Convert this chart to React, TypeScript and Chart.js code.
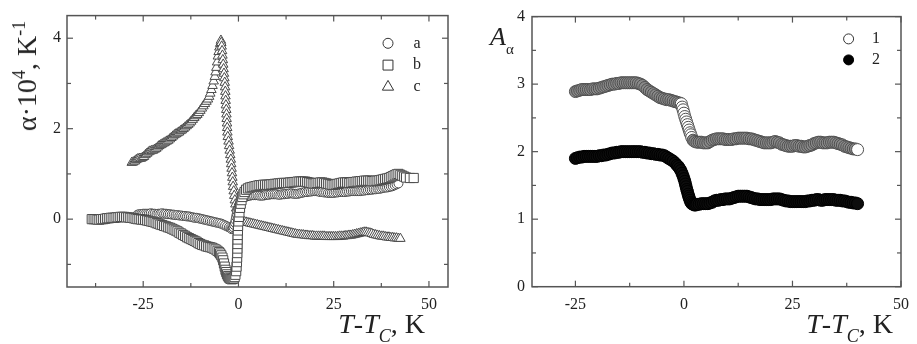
import React, { useEffect, useRef } from 'react';
import { Chart, registerables } from 'chart.js';

Chart.register(...registerables);

// ---------- Left panel: alpha·10^4 vs T-Tc ----------
const leftXTicks = [-25, 0, 25, 50];
const leftXMinor = [-37.5, -12.5, 12.5, 37.5];
const leftYTicks = [0, 2, 4];
const leftYMinor = [-1, 1, 3];

// series "a" (circles)
const seriesA: [number, number][] = [
  [-26.5, 0.1], [-26, 0.11], [-25.5, 0.11], [-25, 0.12], [-24.5, 0.12], [-24, 0.12], [-23.5, 0.12], [-23, 0.13],
  [-22.5, 0.12], [-22, 0.12], [-21.5, 0.11], [-21, 0.12], [-20.5, 0.12], [-20, 0.13], [-19.5, 0.12], [-19, 0.12],
  [-18.5, 0.11], [-18, 0.11], [-17.5, 0.1], [-17, 0.1], [-16.5, 0.09], [-16, 0.09], [-15.5, 0.08], [-15, 0.08],
  [-14.5, 0.07], [-14, 0.07], [-13.5, 0.06], [-13, 0.06], [-12.5, 0.05], [-12, 0.04], [-11.5, 0.03], [-11, 0.03],
  [-10.5, 0.02], [-10, 0.01], [-9.5, 0.0], [-9, -0.01], [-8.5, -0.02], [-8, -0.03], [-7.5, -0.04], [-7, -0.05],
  [-6.5, -0.06], [-6, -0.07], [-5.5, -0.08], [-5, -0.09], [-4.5, -0.1], [-4, -0.12], [-3.5, -0.14], [-3, -0.16],
  [-2.5, -0.18], [-2.1, -0.2], [-1.8, -0.22], [-1.5, -0.21], [-1.3, -0.18], [-1.1, -0.13], [-0.9, -0.08],
  [-0.75, -0.02], [-0.6, 0.05], [-0.45, 0.11], [-0.3, 0.18], [-0.1, 0.24], [0.1, 0.3], [0.35, 0.35], [0.6, 0.4],
  [0.9, 0.44], [1.2, 0.47], [1.6, 0.49], [2.0, 0.5], [2.5, 0.51], [3.0, 0.52], [3.5, 0.53], [4, 0.53], [4.5, 0.53],
  [5, 0.53], [5.5, 0.52], [6, 0.52], [6.5, 0.52], [7, 0.53], [7.5, 0.54], [8, 0.54], [8.5, 0.55], [9, 0.55],
  [9.5, 0.55], [10, 0.55], [10.5, 0.54], [11, 0.54], [11.5, 0.55], [12, 0.55], [12.5, 0.56], [13, 0.56],
  [13.5, 0.57], [14, 0.57], [14.5, 0.56], [15, 0.56], [15.5, 0.56], [16, 0.57], [16.5, 0.58], [17, 0.59],
  [17.5, 0.6], [18, 0.6], [18.5, 0.61], [19, 0.61], [19.5, 0.62], [20, 0.62], [20.5, 0.62], [21, 0.61],
  [21.5, 0.6], [22, 0.6], [22.5, 0.59], [23, 0.59], [23.5, 0.58], [24, 0.58], [24.5, 0.58], [25, 0.58],
  [25.5, 0.59], [26, 0.59], [26.5, 0.6], [27, 0.6], [27.5, 0.6], [28, 0.6], [28.5, 0.61], [29, 0.61],
  [29.5, 0.62], [30, 0.62], [30.5, 0.62], [31, 0.62], [31.5, 0.62], [32, 0.62], [32.5, 0.63], [33, 0.63],
  [33.5, 0.64], [34, 0.64], [34.5, 0.65], [35, 0.65], [35.5, 0.66], [36, 0.66], [36.5, 0.67], [37, 0.67],
  [37.5, 0.68], [38, 0.69], [38.5, 0.7], [39, 0.7], [39.5, 0.71], [40, 0.72], [40.5, 0.73], [41, 0.75],
  [41.5, 0.77], [42, 0.79],
];

// series "b" (squares)
const seriesB: [number, number][] = [
  [-38.5, 0.0], [-38, 0.0], [-37.5, 0.0], [-37, -0.01], [-36.5, -0.01], [-36, 0.0], [-35.5, 0.0], [-35, 0.01],
  [-34.5, 0.02], [-34, 0.02], [-33.5, 0.03], [-33, 0.03], [-32.5, 0.03], [-32, 0.04], [-31.5, 0.04], [-31, 0.05],
  [-30.5, 0.05], [-30, 0.05], [-29.5, 0.04], [-29, 0.04], [-28.5, 0.03], [-28, 0.03], [-27.5, 0.02], [-27, 0.01],
  [-26.5, 0.0], [-26, 0.0], [-25.5, -0.01], [-25, -0.01], [-24.5, -0.02], [-24, -0.03], [-23.5, -0.04],
  [-23, -0.05], [-22.5, -0.06], [-22, -0.07], [-21.5, -0.09], [-21, -0.1], [-20.5, -0.12], [-20, -0.13],
  [-19.5, -0.15], [-19, -0.16], [-18.5, -0.18], [-18, -0.19], [-17.5, -0.21], [-17, -0.23], [-16.5, -0.25],
  [-16, -0.27], [-15.5, -0.3], [-15, -0.32], [-14.5, -0.35], [-14, -0.37], [-13.5, -0.4], [-13, -0.42],
  [-12.5, -0.44], [-12, -0.46], [-11.5, -0.48], [-11, -0.5], [-10.5, -0.53], [-10, -0.55], [-9.5, -0.57],
  [-9, -0.58], [-8.5, -0.6], [-8, -0.61], [-7.5, -0.62], [-7, -0.63], [-6.5, -0.65], [-6, -0.67], [-5.5, -0.7],
  [-5.1, -0.73], [-4.8, -0.76], [-4.5, -0.8], [-4.2, -0.85], [-4.0, -0.91], [-3.8, -0.98], [-3.6, -1.05],
  [-3.4, -1.12], [-3.2, -1.17], [-3.0, -1.22], [-2.75, -1.26], [-2.5, -1.29], [-2.25, -1.31], [-2.0, -1.32],
  [-1.75, -1.33], [-1.5, -1.32], [-1.25, -1.31], [-1.0, -1.28], [-0.8, -1.23], [-0.6, -1.15], [-0.5, -1.05],
  [-0.4, -0.95], [-0.35, -0.85], [-0.3, -0.75], [-0.28, -0.65], [-0.25, -0.55], [-0.22, -0.45], [-0.2, -0.35],
  [-0.15, -0.25], [-0.1, -0.15], [0.0, -0.05], [0.1, 0.05], [0.25, 0.15], [0.4, 0.25], [0.6, 0.34], [0.8, 0.42],
  [1.0, 0.49], [1.3, 0.55], [1.6, 0.6], [2.0, 0.65], [2.5, 0.68], [3.0, 0.7], [3.5, 0.71], [4, 0.72], [4.5, 0.73],
  [5, 0.74], [5.5, 0.75], [6, 0.75], [6.5, 0.76], [7, 0.76], [7.5, 0.76], [8, 0.76], [8.5, 0.77], [9, 0.77],
  [9.5, 0.78], [10, 0.78], [10.5, 0.79], [11, 0.79], [11.5, 0.8], [12, 0.8], [12.5, 0.8], [13, 0.8], [13.5, 0.81],
  [14, 0.81], [14.5, 0.82], [15, 0.82], [15.5, 0.83], [16, 0.83], [16.5, 0.83], [17, 0.83], [17.5, 0.83],
  [18, 0.82], [18.5, 0.81], [19, 0.8], [19.5, 0.79], [20, 0.79], [20.5, 0.8], [21, 0.8], [21.5, 0.81], [22, 0.81],
  [22.5, 0.8], [23, 0.79], [23.5, 0.78], [24, 0.77], [24.5, 0.76], [25, 0.76], [25.5, 0.77], [26, 0.78],
  [26.5, 0.79], [27, 0.8], [27.5, 0.81], [28, 0.81], [28.5, 0.81], [29, 0.8], [29.5, 0.81], [30, 0.82],
  [30.5, 0.82], [31, 0.83], [31.5, 0.83], [32, 0.84], [32.5, 0.84], [33, 0.85], [33.5, 0.85], [34, 0.85],
  [34.5, 0.85], [35, 0.84], [35.5, 0.84], [36, 0.85], [36.5, 0.85], [37, 0.86], [37.5, 0.87], [38, 0.88],
  [38.5, 0.89], [39, 0.9], [39.5, 0.91], [40, 0.93], [40.5, 0.95], [41, 0.97], [41.5, 0.99], [42, 1.0],
  [42.5, 0.98], [43, 0.96], [43.5, 0.94], [44, 0.92], [45, 0.91], [46, 0.91],
];

// series "c" (triangles)
const seriesC: [number, number][] = [
  [-28.0, 1.25], [-27.6, 1.26], [-27.2, 1.28], [-26.8, 1.31], [-26.4, 1.33], [-26.0, 1.34], [-25.6, 1.34],
  [-25.2, 1.36], [-24.8, 1.38], [-24.4, 1.42], [-24.0, 1.45], [-23.6, 1.48], [-23.2, 1.5], [-22.8, 1.51],
  [-22.4, 1.52], [-22.0, 1.54], [-21.6, 1.56], [-21.2, 1.59], [-20.8, 1.62], [-20.4, 1.64], [-20.0, 1.66],
  [-19.6, 1.68], [-19.2, 1.7], [-18.8, 1.72], [-18.4, 1.74], [-18.0, 1.77], [-17.6, 1.8], [-17.2, 1.83],
  [-16.8, 1.86], [-16.4, 1.88], [-16.0, 1.9], [-15.6, 1.92], [-15.2, 1.95], [-14.8, 1.97], [-14.4, 2.0],
  [-14.0, 2.03], [-13.6, 2.06], [-13.2, 2.09], [-12.8, 2.12], [-12.4, 2.16], [-12.0, 2.2], [-11.6, 2.24],
  [-11.2, 2.28], [-10.8, 2.31], [-10.4, 2.35], [-10.0, 2.4], [-9.6, 2.45], [-9.2, 2.5], [-8.8, 2.55],
  [-8.4, 2.6], [-8.0, 2.65], [-7.7, 2.71], [-7.4, 2.78], [-7.1, 2.86], [-6.8, 2.95], [-6.5, 3.05], [-6.2, 3.15],
  [-6.0, 3.25], [-5.8, 3.35], [-5.6, 3.47], [-5.4, 3.6], [-5.2, 3.7], [-5.0, 3.8], [-4.8, 3.88], [-4.6, 3.95],
  [-4.5, 3.9], [-4.4, 3.82], [-4.3, 3.72], [-4.2, 3.62], [-4.1, 3.52], [-4.0, 3.42], [-3.9, 3.32], [-3.8, 3.22],
  [-3.7, 3.12], [-3.6, 3.02], [-3.5, 2.92], [-3.45, 2.82], [-3.4, 2.72], [-3.35, 2.62], [-3.3, 2.52],
  [-3.2, 2.42], [-3.15, 2.32], [-3.1, 2.22], [-3.0, 2.12], [-2.95, 2.02], [-2.9, 1.92], [-2.8, 1.82],
  [-2.6, 1.72], [-2.45, 1.62], [-2.3, 1.52], [-2.15, 1.42], [-2.0, 1.32], [-1.9, 1.22], [-1.8, 1.12],
  [-1.7, 1.02], [-1.6, 0.92], [-1.5, 0.82], [-1.4, 0.72], [-1.25, 0.62], [-1.1, 0.52], [-0.95, 0.42],
  [-0.8, 0.33], [-0.6, 0.24], [-0.4, 0.16], [-0.2, 0.09], [0.0, 0.03], [0.2, -0.02],
  [0.5, -0.04], [1, -0.05], [1.5, -0.06], [2, -0.07], [2.5, -0.08], [3, -0.09], [3.5, -0.1], [4, -0.11],
  [4.5, -0.12], [5, -0.13], [5.5, -0.14], [6, -0.15], [6.5, -0.16], [7, -0.17], [7.5, -0.18], [8, -0.19],
  [8.5, -0.2], [9, -0.21], [9.5, -0.22], [10, -0.23], [10.5, -0.24], [11, -0.25], [11.5, -0.26], [12, -0.27],
  [12.5, -0.28], [13, -0.29], [13.5, -0.3], [14, -0.31], [14.5, -0.32], [15, -0.33], [15.5, -0.34], [16, -0.34],
  [16.5, -0.35], [17, -0.35], [17.5, -0.36], [18, -0.36], [18.5, -0.37], [19, -0.37], [19.5, -0.37],
  [20, -0.38], [20.5, -0.38], [21, -0.38], [21.5, -0.38], [22, -0.38], [22.5, -0.38], [23, -0.39],
  [23.5, -0.39], [24, -0.39], [24.5, -0.39], [25, -0.39], [25.5, -0.39], [26, -0.39], [26.5, -0.38],
  [27, -0.38], [27.5, -0.38], [28, -0.37], [28.5, -0.37], [29, -0.36], [29.5, -0.36], [30, -0.35],
  [30.5, -0.34], [31, -0.33], [31.5, -0.32], [32, -0.31], [32.5, -0.3], [33, -0.29], [33.5, -0.29],
  [34, -0.3], [34.5, -0.31], [35, -0.32], [35.5, -0.34], [36, -0.35], [36.5, -0.36], [37, -0.37],
  [37.5, -0.38], [38, -0.38], [38.5, -0.39], [39, -0.4], [39.5, -0.4], [40, -0.41], [40.5, -0.41],
  [41, -0.42], [41.5, -0.42], [42, -0.43], [42.5, -0.43],
];

// ---------- Right panel: A_alpha vs T-Tc ----------
const rightXTicks = [-25, 0, 25, 50];
const rightXMinor = [-12.5, 12.5, 37.5];
const rightYTicks = [0, 1, 2, 3, 4];
const rightYMinor = [0.5, 1.5, 2.5, 3.5];

// series "1" (gray circles, open at the transition and at the end)
const series1: [number, number][] = [
  [-25, 2.89], [-24.5, 2.9], [-24, 2.91], [-23.5, 2.92], [-23, 2.92], [-22.5, 2.92], [-22, 2.92], [-21.5, 2.92],
  [-21, 2.93], [-20.5, 2.93], [-20, 2.93], [-19.5, 2.94], [-19, 2.95], [-18.5, 2.96], [-18, 2.97], [-17.5, 2.98],
  [-17, 2.99], [-16.5, 3.0], [-16, 3.0], [-15.5, 3.01], [-15, 3.01], [-14.5, 3.02], [-14, 3.02], [-13.5, 3.02],
  [-13, 3.02], [-12.5, 3.02], [-12, 3.02], [-11.5, 3.02], [-11, 3.02], [-10.5, 3.01], [-10, 3.0], [-9.5, 2.98],
  [-9, 2.95], [-8.5, 2.92], [-8, 2.9], [-7.5, 2.88], [-7, 2.86], [-6.5, 2.84], [-6, 2.82], [-5.5, 2.8],
  [-5, 2.79], [-4.5, 2.78], [-4, 2.77], [-3.5, 2.77], [-3, 2.76], [-2.5, 2.75], [-2, 2.74], [-1.5, 2.73],
  [-1.0, 2.72], [-0.6, 2.71], [-0.4, 2.66], [-0.2, 2.62], [0.0, 2.57], [0.2, 2.52], [0.4, 2.48], [0.6, 2.44],
  [0.8, 2.4], [1.0, 2.36], [1.2, 2.32], [1.4, 2.28], [1.6, 2.25], [1.8, 2.21], [2.1, 2.17], [2.5, 2.15],
  [3, 2.14], [3.5, 2.14], [4, 2.14], [4.5, 2.13], [5, 2.13], [5.5, 2.13], [6, 2.15], [6.5, 2.17], [7, 2.18],
  [7.5, 2.19], [8, 2.19], [8.5, 2.19], [9, 2.19], [9.5, 2.18], [10, 2.18], [10.5, 2.18], [11, 2.18], [11.5, 2.19],
  [12, 2.19], [12.5, 2.2], [13, 2.2], [13.5, 2.2], [14, 2.2], [14.5, 2.2], [15, 2.19], [15.5, 2.19], [16, 2.18],
  [16.5, 2.17], [17, 2.16], [17.5, 2.15], [18, 2.14], [18.5, 2.13], [19, 2.13], [19.5, 2.13], [20, 2.13],
  [20.5, 2.14], [21, 2.15], [21.5, 2.14], [22, 2.13], [22.5, 2.11], [23, 2.1], [23.5, 2.09], [24, 2.08],
  [24.5, 2.08], [25, 2.08], [25.5, 2.09], [26, 2.09], [26.5, 2.08], [27, 2.08], [27.5, 2.07], [28, 2.07],
  [28.5, 2.08], [29, 2.09], [29.5, 2.1], [30, 2.12], [30.5, 2.13], [31, 2.14], [31.5, 2.14], [32, 2.13],
  [32.5, 2.13], [33, 2.13], [33.5, 2.14], [34, 2.14], [34.5, 2.14], [35, 2.13], [35.5, 2.12], [36, 2.11],
  [36.5, 2.1], [37, 2.08], [37.5, 2.07], [38, 2.06], [38.5, 2.05], [39, 2.04], [39.5, 2.04], [40, 2.03],
];

// series "2" (black circles)
const series2: [number, number][] = [
  [-25, 1.9], [-24.5, 1.91], [-24, 1.92], [-23.5, 1.92], [-23, 1.93], [-22.5, 1.93], [-22, 1.93], [-21.5, 1.93],
  [-21, 1.93], [-20.5, 1.93], [-20, 1.93], [-19.5, 1.94], [-19, 1.94], [-18.5, 1.95], [-18, 1.95], [-17.5, 1.96],
  [-17, 1.97], [-16.5, 1.98], [-16, 1.98], [-15.5, 1.99], [-15, 1.99], [-14.5, 2.0], [-14, 2.0], [-13.5, 2.0],
  [-13, 2.0], [-12.5, 2.0], [-12, 2.0], [-11.5, 2.0], [-11, 2.0], [-10.5, 2.0], [-10, 2.0], [-9.5, 1.99],
  [-9, 1.99], [-8.5, 1.98], [-8, 1.98], [-7.5, 1.97], [-7, 1.97], [-6.5, 1.96], [-6, 1.96], [-5.5, 1.95],
  [-5, 1.95], [-4.5, 1.94], [-4, 1.92], [-3.5, 1.9], [-3, 1.88], [-2.5, 1.86], [-2, 1.83], [-1.6, 1.8],
  [-1.3, 1.78], [-1.0, 1.75], [-0.7, 1.72], [-0.45, 1.68], [-0.2, 1.64], [0.0, 1.6], [0.2, 1.56], [0.35, 1.52],
  [0.5, 1.48], [0.65, 1.44], [0.8, 1.41], [0.95, 1.37], [1.1, 1.34], [1.25, 1.31], [1.4, 1.28], [1.6, 1.25],
  [1.8, 1.23], [2.1, 1.22], [2.4, 1.21], [2.7, 1.21], [3, 1.22], [3.5, 1.22], [4, 1.23], [4.5, 1.23], [5, 1.23],
  [5.5, 1.23], [6, 1.24], [6.5, 1.25], [7, 1.27], [7.5, 1.28], [8, 1.28], [8.5, 1.29], [9, 1.29], [9.5, 1.3],
  [10, 1.3], [10.5, 1.3], [11, 1.31], [11.5, 1.32], [12, 1.33], [12.5, 1.34], [13, 1.34], [13.5, 1.34],
  [14, 1.34], [14.5, 1.34], [15, 1.33], [15.5, 1.32], [16, 1.31], [16.5, 1.3], [17, 1.3], [17.5, 1.29],
  [18, 1.29], [18.5, 1.29], [19, 1.29], [19.5, 1.29], [20, 1.29], [20.5, 1.3], [21, 1.3], [21.5, 1.3], [22, 1.3],
  [22.5, 1.29], [23, 1.28], [23.5, 1.27], [24, 1.27], [24.5, 1.26], [25, 1.26], [25.5, 1.26], [26, 1.26],
  [26.5, 1.26], [27, 1.26], [27.5, 1.26], [28, 1.26], [28.5, 1.27], [29, 1.27], [29.5, 1.28], [30, 1.28],
  [30.5, 1.29], [31, 1.29], [31.5, 1.28], [32, 1.28], [32.5, 1.29], [33, 1.29], [33.5, 1.29], [34, 1.29],
  [34.5, 1.29], [35, 1.28], [35.5, 1.28], [36, 1.28], [36.5, 1.27], [37, 1.27], [37.5, 1.26], [38, 1.25],
  [38.5, 1.25], [39, 1.24], [39.5, 1.24], [40, 1.23],
];

const SERIF = "'Liberation Serif', 'Times New Roman', serif";
const INK = '#222';
const FRAME = '#555';

const toXY = (pts: [number, number][]) => pts.map(([x, y]) => ({ x, y }));

function drawMarker(ctx: CanvasRenderingContext2D, style: string, x: number, y: number, r: number, fill: string, stroke: string) {
  ctx.beginPath();
  if (style === 'circle') {
    ctx.arc(x, y, r, 0, Math.PI * 2);
  } else if (style === 'rect') {
    const s = r * Math.SQRT1_2;
    ctx.rect(x - s, y - s, 2 * s, 2 * s);
  } else {
    ctx.moveTo(x, y - r);
    ctx.lineTo(x - r * 0.866, y + r * 0.5);
    ctx.lineTo(x + r * 0.866, y + r * 0.5);
    ctx.closePath();
  }
  ctx.fillStyle = fill;
  ctx.fill();
  ctx.lineWidth = 1;
  ctx.strokeStyle = stroke;
  ctx.stroke();
}

const frameTicksPlugin = {
  id: 'frameTicks',
  afterDatasetsDraw(chart: any, _args: any, opts: any) {
    const { ctx, chartArea: ca, scales } = chart;
    ctx.save();
    ctx.strokeStyle = FRAME;
    ctx.lineWidth = 1.5;
    ctx.strokeRect(ca.left, ca.top, ca.right - ca.left, ca.bottom - ca.top);
    ctx.lineWidth = 1.2;
    const seg = (x1: number, y1: number, x2: number, y2: number) => {
      ctx.beginPath();
      ctx.moveTo(x1, y1);
      ctx.lineTo(x2, y2);
      ctx.stroke();
    };
    const xt = (v: number, len: number) => {
      const p = scales.x.getPixelForValue(v);
      seg(p, ca.bottom, p, ca.bottom - len);
      seg(p, ca.top, p, ca.top + len);
    };
    const yt = (v: number, len: number) => {
      const p = scales.y.getPixelForValue(v);
      seg(ca.left, p, ca.left + len, p);
      seg(ca.right, p, ca.right - len, p);
    };
    (opts.xMajor || []).forEach((v: number) => xt(v, 6));
    (opts.xMinor || []).forEach((v: number) => xt(v, 4));
    (opts.yMajor || []).forEach((v: number) => yt(v, 6));
    (opts.yMinor || []).forEach((v: number) => yt(v, 4));
    ctx.restore();
  },
};

const innerLegendPlugin = {
  id: 'innerLegend',
  afterDatasetsDraw(chart: any, _args: any, opts: any) {
    const { ctx, chartArea: ca } = chart;
    if (!opts.items) return;
    ctx.save();
    ctx.font = `16px ${SERIF}`;
    ctx.textAlign = 'center';
    ctx.textBaseline = 'middle';
    opts.items.forEach((it: any, i: number) => {
      const y = ca.top + opts.top + i * opts.step;
      drawMarker(ctx, it.style, ca.right - opts.markerDx, y, it.r, it.fill, it.stroke);
      ctx.fillStyle = INK;
      ctx.fillText(it.label, ca.right - opts.labelDx, y);
    });
    ctx.restore();
  },
};

function axisOpts(min: number, max: number, ticks: number[], fit: (s: any) => void, pad: number) {
  return {
    type: 'linear' as const,
    min,
    max,
    afterBuildTicks: (axis: any) => {
      axis.ticks = ticks.map((v) => ({ value: v }));
    },
    afterFit: fit,
    grid: { display: false, drawTicks: false },
    border: { display: false },
    ticks: {
      color: INK,
      padding: pad,
      font: { family: SERIF, size: 16 },
      autoSkip: false,
      maxRotation: 0,
    },
  };
}

function LeftChart() {
  const ref = useRef<HTMLCanvasElement>(null);
  useEffect(() => {
    const pointOpts = (style: string, r: number) => ({
      pointStyle: style,
      pointRadius: r,
      pointBackgroundColor: '#ffffff',
      pointBorderColor: '#4a4a4a',
      pointBorderWidth: 1,
      showLine: false,
    });
    const chart = new Chart(ref.current!, {
      type: 'scatter',
      data: {
        datasets: [
          { label: 'a', data: toXY(seriesA), ...pointOpts('circle', 4.5), order: 2 },
          { label: 'b', data: toXY(seriesB), ...pointOpts('rect', 6.5), order: 1 },
          { label: 'c', data: toXY(seriesC), ...pointOpts('triangle', 5.5), order: 3 },
        ] as any,
      },
      options: {
        responsive: false,
        animation: false,
        events: [],
        layout: { padding: { top: 8, right: 12, left: 0, bottom: 0 } },
        plugins: {
          legend: { display: false },
          tooltip: { enabled: false },
          frameTicks: { xMajor: leftXTicks, xMinor: leftXMinor, yMajor: leftYTicks, yMinor: leftYMinor },
          innerLegend: {
            top: 27.7,
            step: 21.8,
            markerDx: 60,
            labelDx: 31,
            items: [
              { style: 'circle', label: 'a', r: 5, fill: '#fff', stroke: '#333' },
              { style: 'rect', label: 'b', r: 7, fill: '#fff', stroke: '#333' },
              { style: 'triangle', label: 'c', r: 6.5, fill: '#fff', stroke: '#333' },
            ],
          },
        } as any,
        scales: {
          x: axisOpts(-45, 55, leftXTicks, (s: any) => { s.height = 57; }, 8),
          y: axisOpts(-1.5, 4.5, leftYTicks, (s: any) => { s.width = 67; }, 6),
        } as any,
      },
      plugins: [frameTicksPlugin, innerLegendPlugin],
    });
    return () => chart.destroy();
  }, []);
  return <canvas ref={ref} width={460} height={344} style={{ position: 'absolute', left: 0, top: 0, width: 460, height: 344 }} />;
}

function RightChart() {
  const ref = useRef<HTMLCanvasElement>(null);
  useEffect(() => {
    const last1 = series1[series1.length - 1][0];
    const chart = new Chart(ref.current!, {
      type: 'scatter',
      data: {
        datasets: [
          {
            label: '1',
            data: toXY(series1),
            pointStyle: 'circle',
            pointRadius: 6,
            pointBackgroundColor: (c: any) => {
              const x = c.raw ? c.raw.x : 0;
              return (x > -0.7 && x < 2) || x === last1 ? '#ffffff' : '#8a8a8a';
            },
            pointBorderColor: '#4f4f4f',
            pointBorderWidth: 1,
            showLine: false,
          },
          {
            label: '2',
            data: toXY(series2),
            pointStyle: 'circle',
            pointRadius: 6,
            pointBackgroundColor: '#0d0d0d',
            pointBorderColor: '#000000',
            pointBorderWidth: 1,
            showLine: false,
          },
        ] as any,
      },
      options: {
        responsive: false,
        animation: false,
        events: [],
        layout: { padding: { top: 10, right: 10.3, left: 0, bottom: 0 } },
        plugins: {
          legend: { display: false },
          tooltip: { enabled: false },
          frameTicks: { xMajor: rightXTicks, xMinor: rightXMinor, yMajor: rightYTicks, yMinor: rightYMinor },
          innerLegend: {
            top: 22.3,
            step: 21,
            markerDx: 52.4,
            labelDx: 25,
            items: [
              { style: 'circle', label: '1', r: 5, fill: '#fff', stroke: '#333' },
              { style: 'circle', label: '2', r: 5, fill: '#000', stroke: '#000' },
            ],
          },
        } as any,
        scales: {
          x: axisOpts(-35, 50, rightXTicks, (s: any) => { s.height = 57.3; }, 8),
          y: axisOpts(0, 4, rightYTicks, (s: any) => { s.width = 72; }, 7),
        } as any,
      },
      plugins: [frameTicksPlugin, innerLegendPlugin],
    });
    return () => chart.destroy();
  }, []);
  return <canvas ref={ref} width={457} height={344} style={{ position: 'absolute', left: 460, top: 0, width: 457, height: 344 }} />;
}

const titleBase: React.CSSProperties = {
  position: 'absolute',
  fontFamily: SERIF,
  color: INK,
  whiteSpace: 'nowrap',
  lineHeight: 1,
};

function XTitle({ right }: { right: number }) {
  return (
    <div style={{ ...titleBase, right, top: 310, fontSize: 28 }}>
      <i>T</i>-<i>T</i>
      <span style={{ fontSize: 18, position: 'relative', top: 9 }}><i>C</i></span>, K
    </div>
  );
}

export default function App() {
  return (
    <div style={{ position: 'absolute', left: 0, top: 0, width: 917, height: 344, background: '#fff', overflow: 'hidden' }}>
      <LeftChart />
      <RightChart />
      <div
        style={{
          ...titleBase,
          left: 27,
          top: 76,
          fontSize: 28,
          transform: 'translate(-50%, -50%) rotate(-90deg)',
        }}
      >
        α·10<span style={{ fontSize: 18, position: 'relative', top: -11 }}>4</span>, K
        <span style={{ fontSize: 18, position: 'relative', top: -11 }}>-1</span>
      </div>
      <XTitle right={917 - 425} />
      <XTitle right={917 - 893} />
      <div style={{ ...titleBase, left: 490, top: 24, fontSize: 26 }}>
        <i>A</i>
        <span style={{ fontSize: 15, position: 'relative', top: 9 }}>α</span>
      </div>
    </div>
  );
}
